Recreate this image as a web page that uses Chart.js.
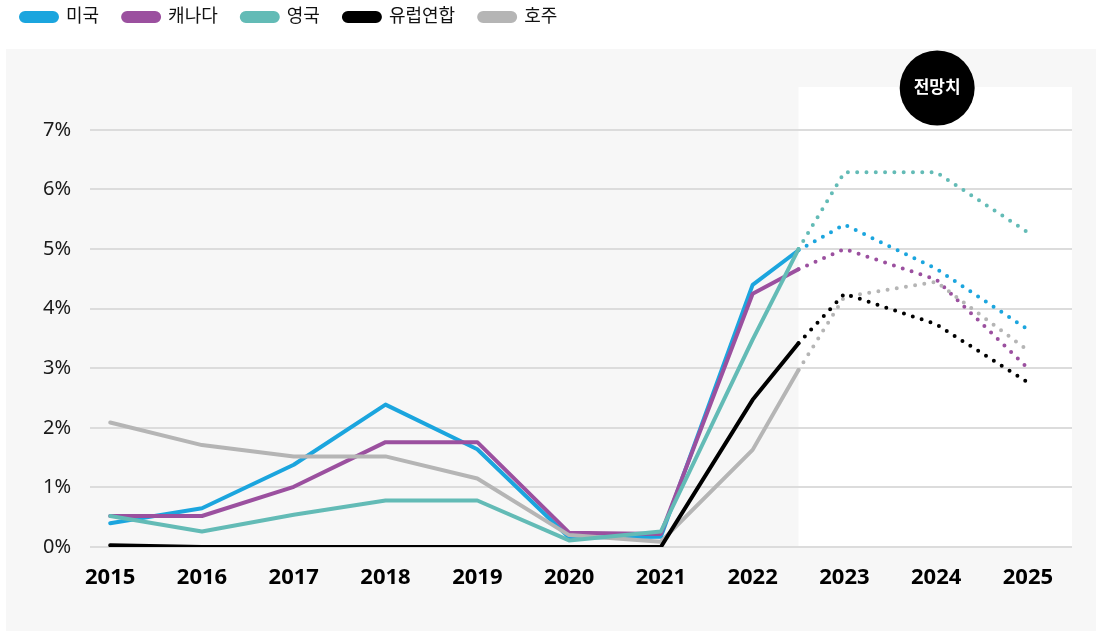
<!DOCTYPE html>
<html>
<head>
<meta charset="utf-8">
<script src="https://cdn.jsdelivr.net/npm/chart.js@4"></script>
<style>
  body { margin: 0; background: #fff; }
  #wrap { position: relative; width: 1096px; height: 631px; }
  #panel { position: absolute; left: 6px; top: 49px; width: 1090px; height: 582px; background: #f7f7f7; }
  #myChart { position: absolute; left: 0; top: 0; }
</style>
</head>
<body>
<div id="wrap">
  <div id="panel"></div>
  <canvas id="myChart" width="1096" height="631"></canvas>
</div>
<script>
const years = [2015, 2016, 2017, 2018, 2019, 2020, 2021, 2022, 2022.5, 2023, 2024, 2025];
const yearTicks = [2015, 2016, 2017, 2018, 2019, 2020, 2021, 2022, 2023, 2024, 2025];
const percentTicks = [0, 1, 2, 3, 4, 5, 6, 7];
const forecastStart = 2022.5;

const usa = [0.40, 0.65, 1.38, 2.39, 1.64, 0.16, 0.17, 4.40, 4.98, 5.41, 4.67, 3.65];
const canada = [0.52, 0.52, 1.01, 1.76, 1.76, 0.24, 0.22, 4.25, 4.66, 5.00, 4.49, 3.00];
const uk = [0.52, 0.26, 0.54, 0.78, 0.78, 0.11, 0.26, 3.48, 5.00, 6.29, 6.29, 5.28];
const eu = [0.03, 0.00, 0.00, 0.00, 0.00, 0.00, 0.00, 2.47, 3.42, 4.25, 3.74, 2.76];
const australia = [2.09, 1.71, 1.52, 1.52, 1.15, 0.20, 0.09, 1.63, 2.97, 4.20, 4.45, 3.30];

const fontFamily = "'Noto Sans', 'Noto Sans CJK KR', sans-serif";

function series(label, values, color, order) {
    return {
        label: label,
        data: values.map((v, i) => ({x: years[i], y: v})),
        borderColor: color,
        backgroundColor: color,
        borderWidth: 4,
        borderCapStyle: 'round',
        borderJoinStyle: 'round',
        pointRadius: 0,
        tension: 0,
        order: order,
        segment: {
            borderDash: ctx => ctx.p0.parsed.x >= forecastStart ? [0, 9.3] : undefined
        }
    };
}

// white forecast area behind the grid, and the badge on top
const forecastArea = {
    id: 'forecastArea',
    beforeDraw(chart) {
        const {ctx, chartArea, scales} = chart;
        const x0 = scales.x.getPixelForValue(forecastStart);
        ctx.save();
        ctx.fillStyle = '#ffffff';
        ctx.fillRect(x0, chartArea.top, chartArea.right - x0, chartArea.bottom - chartArea.top);
        ctx.restore();
    },
    afterDraw(chart) {
        const {ctx, chartArea, scales} = chart;
        const cx = scales.x.getPixelForValue(2024) + 1;
        const cy = chartArea.top + 1;
        ctx.save();
        ctx.beginPath();
        ctx.fillStyle = '#000000';
        ctx.arc(cx, cy, 37.5, 0, Math.PI * 2);
        ctx.fill();
        ctx.fillStyle = '#ffffff';
        ctx.font = "bold 17px " + fontFamily;
        ctx.textAlign = 'center';
        ctx.textBaseline = 'middle';
        ctx.fillText('전망치', cx, cy);
        ctx.restore();
    }
};

const legendSpace = {
    id: 'legendSpace',
    beforeInit(chart) {
        const fit = chart.legend.fit;
        chart.legend.fit = function () {
            fit.bind(chart.legend)();
            this.height = 103;
        };
    }
};

new Chart(document.getElementById('myChart'), {
    type: 'line',
    data: {
        datasets: [
            series('미국', usa, '#1ba5de', 5),
            series('캐나다', canada, '#9b509f', 4),
            series('영국', uk, '#63bbb6', 1),
            series('유럽연합', eu, '#000000', 2),
            series('호주', australia, '#b5b5b5', 3)
        ]
    },
    options: {
        responsive: false,
        animation: false,
        layout: {padding: {top: -16, right: 24, bottom: 0, left: -3}},
        plugins: {
            tooltip: {enabled: false},
            legend: {
                position: 'top',
                align: 'start',
                labels: {
                    boxWidth: 36,
                    boxHeight: 8,
                    useBorderRadius: true,
                    borderRadius: 4,
                    padding: 24,
                    color: '#111',
                    font: {family: fontFamily, size: 18},
                    sort: (a, b) => a.datasetIndex - b.datasetIndex
                }
            }
        },
        scales: {
            x: {
                type: 'linear',
                min: 2014.78,
                max: 2025.48,
                grid: {display: false},
                border: {display: false},
                afterBuildTicks: scale => { scale.ticks = yearTicks.map(v => ({value: v})); },
                afterFit: scale => { scale.height = 84; },
                ticks: {
                    padding: 10,
                    color: '#000',
                    font: {family: fontFamily, size: 22, weight: 'bold'},
                    callback: v => String(v)
                }
            },
            y: {
                min: 0,
                max: 7.72,
                grid: {color: '#dcdcdc', lineWidth: 2, drawTicks: false},
                border: {display: false},
                afterBuildTicks: scale => { scale.ticks = percentTicks.map(v => ({value: v})); },
                afterFit: scale => { scale.width = 93; },
                ticks: {
                    padding: 19,
                    color: '#1a1a1a',
                    font: {family: fontFamily, size: 20},
                    callback: v => v + '%'
                }
            }
        }
    },
    plugins: [forecastArea, legendSpace]
});
</script>
</body>
</html>
